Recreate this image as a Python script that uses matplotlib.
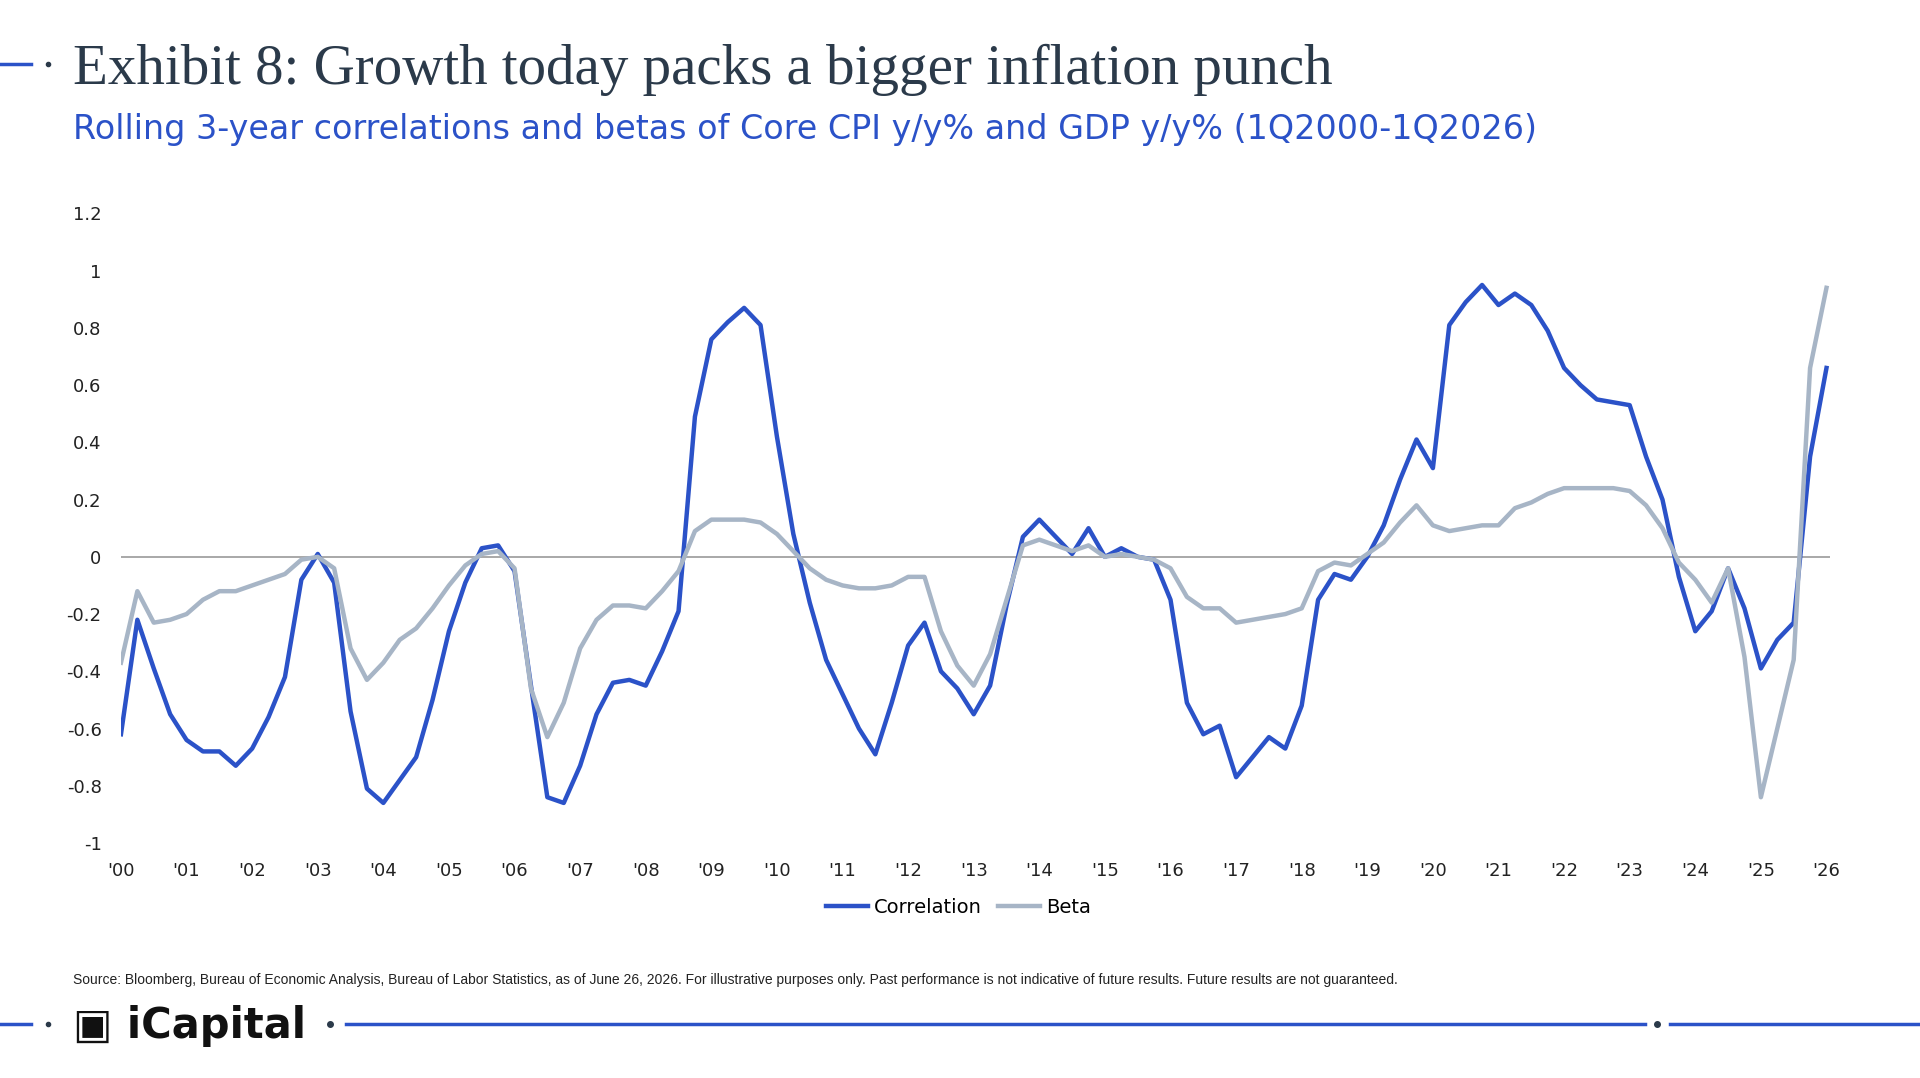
import matplotlib
matplotlib.use("Agg")
import matplotlib.pyplot as plt
import numpy as np

correlation = [-0.62,-0.22,-0.39,-0.55, -0.64,-0.68,-0.68,-0.73, -0.67,-0.56,-0.42,-0.08,
 0.01,-0.09,-0.54,-0.81, -0.86,-0.78,-0.70,-0.50, -0.26,-0.09,0.03,0.04,
 -0.05,-0.45,-0.84,-0.86, -0.73,-0.55,-0.44,-0.43, -0.45,-0.33,-0.19,0.49,
 0.76,0.82,0.87,0.81, 0.42,0.08,-0.16,-0.36, -0.48,-0.60,-0.69,-0.51,
 -0.31,-0.23,-0.40,-0.46, -0.55,-0.45,-0.17,0.07, 0.13,0.07,0.01,0.10,
 0.00,0.03,0.00,-0.01, -0.15,-0.51,-0.62,-0.59, -0.77,-0.70,-0.63,-0.67,
 -0.52,-0.15,-0.06,-0.08, 0.00,0.11,0.27,0.41, 0.31,0.81,0.89,0.95,
 0.88,0.92,0.88,0.79, 0.66,0.60,0.55,0.54, 0.53,0.35,0.20,-0.07,
 -0.26,-0.19,-0.04,-0.18, -0.39,-0.29,-0.23,0.35, 0.66]
beta = [-0.37,-0.12,-0.23,-0.22, -0.20,-0.15,-0.12,-0.12, -0.10,-0.08,-0.06,-0.01,
 0.00,-0.04,-0.32,-0.43, -0.37,-0.29,-0.25,-0.18, -0.10,-0.03,0.01,0.02,
 -0.04,-0.46,-0.63,-0.51, -0.32,-0.22,-0.17,-0.17, -0.18,-0.12,-0.05,0.09,
 0.13,0.13,0.13,0.12, 0.08,0.02,-0.04,-0.08, -0.10,-0.11,-0.11,-0.10,
 -0.07,-0.07,-0.26,-0.38, -0.45,-0.34,-0.15,0.04, 0.06,0.04,0.02,0.04,
 0.00,0.01,0.00,-0.01, -0.04,-0.14,-0.18,-0.18, -0.23,-0.22,-0.21,-0.20,
 -0.18,-0.05,-0.02,-0.03, 0.01,0.05,0.12,0.18, 0.11,0.09,0.10,0.11,
 0.11,0.17,0.19,0.22, 0.24,0.24,0.24,0.24, 0.23,0.18,0.10,-0.02,
 -0.08,-0.16,-0.04,-0.35, -0.84,-0.60,-0.36,0.66, 0.94]
year_labels = ["'%02d" % y for y in range(0, 27)]
y_ticks = [-1, -0.8, -0.6, -0.4, -0.2, 0, 0.2, 0.4, 0.6, 0.8, 1, 1.2]
y_labels = ["-1", "-0.8", "-0.6", "-0.4", "-0.2", "0", "0.2", "0.4", "0.6", "0.8", "1", "1.2"]

fig = plt.figure(figsize=(19.2, 10.78), dpi=100)
ax = fig.add_axes([0.063, 0.218, 0.890, 0.584])
x = np.arange(len(correlation))
ax.axhline(0, color="#9a9a9a", lw=1.2, xmin=0, xmax=1)
ax.plot(x, correlation, color="#2b52c8", lw=3.2, label="Correlation")
ax.plot(x, beta, color="#a7b5c6", lw=3.2, label="Beta")
ax.set_xlim(0, 104.2)
ax.set_ylim(-1, 1.2)
ax.set_xticks(np.arange(0, 105, 4))
ax.set_xticklabels(year_labels)
ax.set_yticks(y_ticks)
ax.set_yticklabels(y_labels)
for s in ax.spines.values():
    s.set_visible(False)
ax.tick_params(length=0, labelsize=13, colors="#222222", pad=14)
ax.legend(loc="upper center", bbox_to_anchor=(0.49, -0.06), ncol=2, frameon=False,
          fontsize=14, handlelength=2.2, handletextpad=0.3, columnspacing=0.8)

navy = "#2b3a4a"
blue = "#2b52c8"
fig.text(0.038, 0.935, "Exhibit 8: Growth today packs a bigger inflation punch", family="Liberation Serif",
         fontsize=41, color=navy, va="center")
fig.text(0.038, 0.880, "Rolling 3-year correlations and betas of Core CPI y/y% and GDP y/y% (1Q2000-1Q2026)",
         fontsize=24, color=blue, va="center")
fig.text(0.038, 0.091, "Source: Bloomberg, Bureau of Economic Analysis, Bureau of Labor Statistics, as of June 26, 2026. For illustrative purposes only. Past performance is not indicative of future results. Future results are not guaranteed.",
         fontsize=10, family="Liberation Sans", color="#222222", va="center")
fig.add_artist(plt.Line2D([0.0, 0.016], [0.941, 0.941], color=blue, lw=2.5))
fig.add_artist(plt.Line2D([0.025], [0.941], marker="o", ms=3, color=navy))
fig.add_artist(plt.Line2D([0.0, 0.016], [0.050, 0.050], color=blue, lw=2.5))
fig.add_artist(plt.Line2D([0.025], [0.050], marker="o", ms=3, color=navy))
fig.text(0.038, 0.048, "\u25A3 iCapital", fontsize=30, fontweight="bold", color="#111111", va="center")
fig.add_artist(plt.Line2D([0.172], [0.050], marker="o", ms=4, color=navy))
fig.add_artist(plt.Line2D([0.180, 0.857], [0.050, 0.050], color=blue, lw=2.5))
fig.add_artist(plt.Line2D([0.863], [0.050], marker="o", ms=4, color=navy))
fig.add_artist(plt.Line2D([0.870, 1.0], [0.050, 0.050], color=blue, lw=2.5))
fig.savefig("out.png", dpi=100, facecolor="white")
